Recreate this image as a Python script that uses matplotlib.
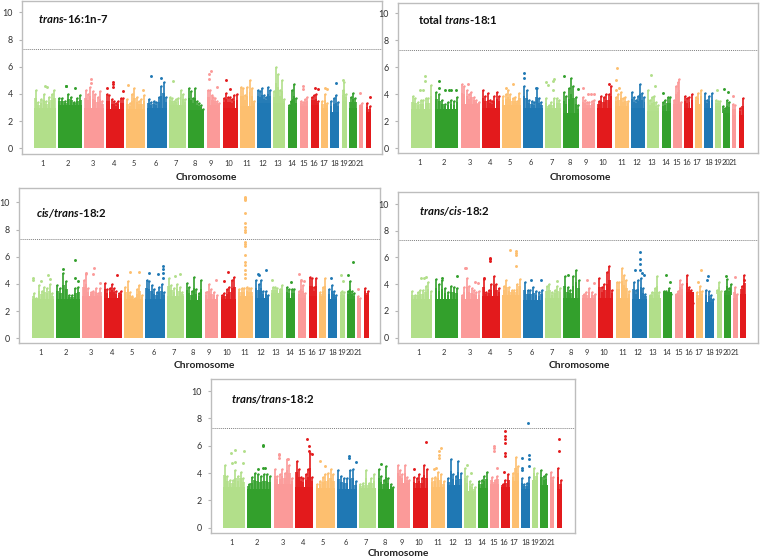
import matplotlib
matplotlib.use("Agg")
from matplotlib import pyplot as plt

plt.rcParams['font.family'] = ['Lato', 'DejaVu Sans']
plt.rcParams['mathtext.fontset'] = 'custom'
plt.rcParams['mathtext.bfit'] = 'Lato:italic:bold'
plt.rcParams['mathtext.rm'] = 'Lato:bold'

W, H = 760, 559

# chromosome extents along the shared genome axis (22 blocks, 21 labels)
chrom_start = [103, 174, 253, 318, 379, 442, 508, 563, 620, 668, 721, 771, 820, 863, 899, 932, 964, 991, 1025, 1048, 1076, 1097]
chrom_end = [167, 246, 311, 372, 435, 502, 557, 613, 661, 713, 764, 814, 856, 892, 925, 957, 985, 1018, 1042, 1070, 1090, 1113]
tick_pos = [127, 203, 280, 341, 401, 467, 528, 584, 634, 685, 741, 787, 833, 874, 910, 940, 970, 1005, 1032, 1057, 1081]
tick_labels = [str(i) for i in range(1, 22)]
colours = ['#b2df8a', '#33a02c', '#fb9a99', '#e31a1c', '#fdbf6f', '#1f78b4']
threshold = 7.3

# solid block height per chromosome, then skyline peaks left to right, then isolated SNPs (chrom, frac, y)
t16_solid = [3.0, 3.2, 3.0, 2.9, 2.9, 3.0, 3.2, 2.8, 3.2, 3.0, 3.1, 3.3, 3.3, 2.8, 3.1, 3.2, 3.0, 2.7, 3.5, 3.0, 3.1, 2.7]
t16_peaks = [[4.3, 3.4, 3.6, 4.0, 3.5, 3.8, 4.0, 4.3], [3.7, 3.7, 3.5, 4.0, 3.8, 3.4, 3.7, 3.9],
             [4.3, 4.0, 4.5, 4.2, 4.0, 3.8, 4.2, 3.5], [4.0, 3.9, 3.6, 3.5, 3.3, 3.5, 3.7, 3.7],
             [3.6, 3.3, 4.0, 4.4, 3.8, 3.5, 3.6, 3.9], [3.6, 3.4, 3.5, 3.4, 3.8, 4.6, 4.9, 3.8],
             [3.8, 3.7, 3.5, 3.6, 3.7, 4.3, 4.0, 3.6], [4.4, 4.2, 3.7, 4.4, 3.5, 3.3, 3.2, 2.9],
             [4.3, 4.3, 3.9, 3.8, 3.7, 3.5, 3.3], [3.7, 4.1, 3.8, 3.8, 3.6, 3.9, 4.0],
             [4.5, 4.4, 3.9, 4.5, 5.0, 4.4, 3.5], [4.3, 4.2, 4.4, 3.9, 3.8, 4.5, 4.3],
             [4.2, 6.0, 5.5, 4.3, 5.0, 3.6], [3.2, 3.5, 4.3, 4.7, 3.7], [3.5, 3.4, 3.6, 3.8],
             [3.8, 3.9, 4.0, 3.5], [3.5, 4.0, 3.3], [3.5, 3.7, 3.9, 3.4], [4.3, 4.9, 4.0],
             [3.8, 4.1, 3.7], [3.2, 3.3], [3.3, 3.1]]
t16_hits = [(1, .5, 4.6), (1, .58, 4.5), (2, .32, 4.55), (2, .35, 4.6), (2, .73, 4.45), (3, .33, 5.1), (3, .33, 4.8),
            (4, .05, 4.4), (4, .4, 4.9), (4, .4, 4.7), (4, .4, 4.5), (4, .93, 4.25), (5, .07, 4.65), (5, .9, 4.3),
            (6, .2, 5.35), (6, .7, 5.15), (7, .2, 4.95), (9, .3, 5.7), (9, .2, 5.5), (9, .2, 5.1), (9, .75, 4.5),
            (10, .22, 5.05), (10, .48, 4.35), (15, .4, 4.6), (15, .4, 4.35), (16, .5, 4.45), (16, .85, 4.35),
            (17, .5, 4.45), (17, .85, 4.35), (18, .67, 4.8), (19, .3, 5.0), (21, .4, 4.05), (22, .8, 3.8)]

tt181_solid = [2.9, 2.9, 3.3, 3.0, 3.2, 3.0, 3.0, 2.6, 3.0, 3.0, 3.1, 3.0, 2.8, 2.8, 3.3, 3.0, 3.3, 3.0, 3.1, 2.6, 2.5, 2.5]
tt181_peaks = [[3.9, 3.7, 3.4, 3.6, 3.6, 3.7, 3.7, 4.7], [4.2, 4.0, 3.6, 3.3, 3.4, 3.6, 3.5, 3.8],
               [4.8, 4.6, 4.3, 4.0, 4.2, 3.8, 3.6, 3.4], [4.3, 3.9, 4.1, 3.6, 3.5, 3.9, 4.2, 3.9],
               [3.9, 4.0, 4.3, 4.0, 3.7, 3.8, 3.5, 4.1], [4.6, 4.3, 3.6, 3.5, 3.4, 4.5, 3.7, 3.4],
               [3.7, 3.2, 3.4, 3.7, 3.7, 3.6], [4.2, 3.9, 4.5, 5.2, 4.6, 3.8, 3.2],
               [3.8, 3.6, 3.4, 3.4, 3.5, 3.6], [3.5, 3.9, 3.8, 4.0, 4.0, 4.6],
               [3.8, 4.0, 4.2, 3.7, 3.8, 3.5], [4.2, 3.8, 3.6, 3.9, 4.8, 4.1, 3.8],
               [4.3, 3.6, 3.8, 3.9, 3.4, 3.2], [3.4, 3.6, 3.8, 3.8], [3.6, 4.6, 4.9, 5.1, 3.4],
               [3.9, 3.7, 3.8, 4.0], [3.8, 4.1, 4.3], [4.1, 3.6, 3.9, 4.1], [3.6, 3.5, 3.5],
               [3.1, 3.0, 3.6, 3.4], [3.3, 3.2], [3.0, 3.7]]
tt181_hits = [(1, .65, 5.35), (1, .4, 4.3), (1, .55, 4.3), (1, .65, 4.95), (2, .18, 5.0), (2, .18, 4.5), (2, .45, 4.3),
              (2, .6, 4.3), (2, .7, 4.3), (2, .9, 4.3), (3, .4, 4.8), (5, .2, 4.5), (5, .6, 4.75), (6, .05, 5.6),
              (6, .05, 5.2), (6, .65, 4.5), (7, .1, 4.9), (7, .5, 5.0), (7, .55, 5.15), (7, .2, 4.7), (7, .5, 4.3),
              (8, .05, 5.35), (8, .9, 4.4), (9, .1, 4.45), (9, .5, 4.0), (9, .7, 4.0), (9, .9, 4.0), (10, .75, 4.8),
              (11, .18, 5.95), (11, .08, 5.05), (11, .3, 4.5), (11, .08, 4.35), (13, .28, 5.4), (13, .65, 4.65),
              (14, .15, 4.1), (19, .3, 4.3), (20, .2, 4.4), (20, .7, 4.2), (21, .3, 3.9)]

ct182_solid = [2.9, 2.9, 3.1, 3.0, 2.9, 2.9, 3.1, 2.8, 2.9, 2.9, 3.1, 3.0, 3.3, 3.0, 3.0, 3.1, 3.1, 2.9, 3.0, 2.9, 2.9, 3.2]
ct182_peaks = [[3.3, 3.0, 3.9, 3.5, 3.8, 3.7, 4.0, 3.3], [3.9, 3.7, 4.8, 4.2, 3.2, 3.2, 3.7, 3.8],
               [4.3, 4.7, 3.7, 3.4, 3.5, 3.7, 3.3, 3.7], [4.1, 3.6, 3.7, 4.0, 3.7, 3.5, 3.3, 3.5],
               [3.8, 4.2, 3.4, 3.1, 3.0, 3.6, 3.9, 3.2], [4.3, 4.2, 3.9, 3.6, 3.4, 3.8, 4.0, 3.4],
               [4.4, 3.9, 3.7, 4.0, 3.8, 3.4], [4.1, 3.8, 3.5, 4.5, 3.6, 3.3, 4.3],
               [3.4, 4.0, 3.6, 3.4, 3.2], [3.2, 3.3, 3.6, 3.8, 4.3, 4.5], [3.6, 3.7, 3.7, 3.8, 3.7, 3.7],
               [4.3, 4.0, 4.3, 3.5, 3.5, 3.2], [3.8, 3.8, 3.7, 3.6, 3.9], [3.8, 3.6, 3.6, 3.6],
               [3.5, 4.2, 3.9, 3.3], [4.5, 4.4, 3.8, 4.4], [3.4, 3.8, 4.4], [3.6, 3.9, 3.5, 3.2],
               [3.4, 3.5, 3.4], [3.5, 4.2, 3.5, 3.3], [3.1, 3.0], [3.7, 3.5]]
ct182_hits = [(1, .02, 4.4), (1, .05, 4.3), (1, .4, 4.2), (1, .75, 4.65), (1, .85, 4.35), (2, .28, 5.1), (2, .8, 5.75),
              (2, .8, 4.4), (2, .9, 4.2), (3, .58, 5.2), (3, .2, 4.8), (3, .55, 4.7), (3, .9, 4.1), (4, .72, 4.65),
              (5, .32, 4.85), (5, .78, 4.9), (6, .2, 4.8), (6, .62, 4.75), (6, .88, 5.35), (6, .88, 5.1), (6, .88, 4.8),
              (6, .88, 4.4), (7, .45, 4.6), (7, .8, 4.7), (9, .8, 4.3), (10, .5, 4.9), (10, .25, 4.2),
              (11, .45, 10.4), (11, .45, 10.35), (11, .45, 10.3), (11, .45, 10.25), (11, .45, 10.2), (11, .45, 9.2),
              (11, .45, 8.5), (11, .45, 8.2), (11, .45, 8.0), (11, .45, 7.8), (11, .45, 7.1), (11, .45, 6.95),
              (11, .45, 6.8), (11, .45, 6.1), (11, .45, 5.6), (11, .45, 5.4), (11, .45, 5.0), (11, .45, 4.7),
              (11, .45, 4.4), (12, .2, 4.75), (12, .25, 4.65),
              (12, .8, 5.05), (13, .05, 4.3), (14, .6, 4.15), (15, .2, 4.7), (15, .4, 4.3), (15, .7, 4.2),
              (18, .3, 4.4), (19, .2, 4.65), (19, .6, 4.2), (20, .1, 4.65), (20, .8, 5.6), (21, .4, 3.6)]

tc182_solid = [2.9, 2.9, 2.9, 3.1, 3.2, 2.8, 3.0, 3.0, 3.0, 3.0, 3.0, 2.9, 3.0, 3.4, 3.2, 3.4, 3.0, 2.7, 3.3, 3.2, 3.0, 3.3]
tc182_peaks = [[3.5, 3.2, 3.4, 3.6, 3.6, 3.9, 4.2, 3.5], [4.4, 4.0, 4.3, 3.7, 3.4, 3.9, 3.8, 3.7],
               [3.2, 3.8, 4.5, 3.9, 3.7, 3.6, 3.4, 3.5], [4.4, 3.4, 3.6, 4.0, 4.6, 4.0, 3.7],
               [3.9, 4.3, 3.8, 3.6, 3.6, 4.0, 4.4], [4.2, 3.6, 3.6, 3.8, 3.5, 3.4, 3.6],
               [3.9, 4.0, 3.4, 3.6, 3.9, 3.7], [4.6, 3.8, 3.6, 4.6, 5.1, 4.3], [3.3, 3.4, 3.7, 3.4, 3.3],
               [4.5, 3.8, 4.0, 4.9, 5.4, 3.6], [4.2, 4.2, 5.2, 4.7, 4.3, 3.5], [4.2, 3.6, 4.3, 4.5, 3.7, 3.3],
               [3.2, 3.4, 3.7, 4.6, 3.4], [3.5, 3.5, 3.7, 3.3], [3.3, 3.5, 4.3, 4.0], [4.7, 3.8, 3.6, 2.6],
               [3.4, 3.9, 3.5], [3.6, 3.5, 3.2, 2.9], [3.6, 4.2, 3.5], [3.5, 4.4, 3.7, 4.0], [3.8, 3.3], [3.9, 4.7]]
tc182_hits = [(1, .45, 4.5), (1, .6, 4.45), (1, .7, 4.55), (2, .3, 4.5), (2, .95, 4.65), (3, .2, 5.25), (3, .3, 5.25),
              (3, .75, 4.15), (3, .9, 4.1), (4, .45, 5.95), (4, .45, 5.85), (4, .45, 5.75), (4, .1, 4.5), (5, .38, 6.55),
              (5, .75, 6.45), (5, .75, 6.3), (5, .75, 6.2), (5, .75, 5.4), (6, .4, 4.35), (6, .9, 4.3), (7, .7, 4.25),
              (8, .3, 4.7), (9, .35, 4.35), (9, .85, 4.1), (12, .55, 6.4), (12, .55, 5.85), (12, .55, 5.5), (12, .2, 5.1),
              (12, .55, 5.1), (12, .65, 4.85), (12, .8, 4.7), (14, .35, 4.7), (14, .75, 4.15), (17, .7, 5.1), (17, .3, 4.2),
              (18, .3, 4.6), (18, .2, 4.3), (20, .3, 4.6), (21, .3, 4.55), (22, .7, 4.35)]

ttt182_solid = [3.0, 2.8, 3.2, 3.0, 2.9, 2.8, 2.9, 2.8, 3.3, 2.9, 3.0, 3.1, 2.7, 2.9, 3.2, 3.0, 3.4, 2.8, 3.5, 3.1, 3.3, 2.8]
ttt182_peaks = [[4.6, 3.8, 3.5, 3.5, 4.2, 3.8, 4.1, 3.6], [3.2, 3.7, 4.0, 3.9, 3.8, 3.9, 3.9, 3.8],
                [4.3, 3.8, 3.9, 4.3, 4.0, 5.0, 4.6, 3.6], [4.9, 4.3, 3.7, 3.6, 3.9, 4.3, 5.5, 3.7],
                [3.2, 3.4, 3.7, 3.9, 4.0, 4.3, 3.9], [4.2, 3.8, 3.6, 3.6, 4.2, 4.3, 3.4],
                [3.2, 3.3, 4.2, 3.3, 3.6, 3.9], [4.3, 3.8, 3.5, 4.5, 3.6, 3.2, 3.0],
                [4.6, 4.2, 3.9, 4.6, 3.7, 3.5], [3.7, 3.6, 3.9, 3.6, 4.6, 4.3], [3.6, 3.7, 4.1, 3.9, 3.4],
                [3.6, 5.0, 3.9, 3.8, 4.9, 4.0], [4.4, 3.8, 3.4, 3.2, 3.0], [3.4, 3.5, 3.8, 4.1],
                [3.7, 3.5, 3.8], [3.2, 3.5, 3.9], [4.0, 5.2, 4.5], [3.6, 3.2, 3.3, 3.7], [4.4, 4.0],
                [4.2, 3.8, 3.9], [4.1, 3.7], [4.4, 3.5]]
ttt182_hits = [(1, .38, 5.5), (1, .55, 5.65), (1, .95, 5.6), (1, .4, 4.75), (1, .55, 4.8), (1, .9, 4.7), (2, .65, 6.05),
               (2, .65, 5.95), (2, .65, 4.4), (2, .45, 4.3), (2, .75, 4.4), (3, .28, 5.4), (3, .28, 5.3), (3, .28, 5.1),
               (3, .75, 5.0), (4, .62, 6.5), (4, .73, 6.0), (4, .73, 5.6), (4, .9, 5.4), (5, .2, 4.85), (5, .5, 4.55),
               (6, .6, 5.25), (6, .6, 5.1), (6, .95, 4.8), (8, .2, 4.65), (10, .9, 6.3), (10, .05, 4.3), (11, .7, 5.8),
               (11, .6, 5.6), (11, .6, 5.3), (11, .6, 5.1), (11, .25, 4.3), (11, .35, 4.35), (13, .3, 4.6), (13, .6, 4.0),
               (15, .45, 5.95), (15, .45, 5.8), (15, .45, 5.6), (15, .75, 4.35), (16, .5, 7.05), (16, .5, 6.7),
               (16, .5, 6.5), (16, .5, 6.2), (16, .5, 5.5), (16, .5, 5.25), (16, .3, 4.1), (18, .75, 7.65), (18, .85, 5.3),
               (18, .85, 5.05), (18, .1, 5.1), (18, .85, 4.5), (18, .1, 4.4), (18, .1, 4.2), (22, .4, 6.5), (22, .4, 5.6)]


def px_axes(left, right, top, bottom):
    # pixel box -> figure fraction
    return fig.add_axes([left / W, 1 - bottom / H, (right - left) / W, (bottom - top) / H])


def draw_panel(box, y0_px, unit_px, x0_px, scale, title, title_xy, label_xy, solid, peaks, hits):
    left, right, top, bottom = box
    ax = px_axes(left, right, top, bottom)
    ax.set_xlim(103 + (left - x0_px) / scale, 103 + (right - x0_px) / scale)
    ax.set_ylim((y0_px - bottom) / unit_px, (y0_px - top) / unit_px)

    for i in range(22):
        c = colours[i % 6]
        a, b = chrom_start[i], chrom_end[i]
        ax.bar((a + b) / 2, solid[i], width=b - a, color=c, linewidth=0, zorder=2)
        n = len(peaks[i])
        step = (b - a) / n
        xs = [a + (j + 0.5) * step for j in range(n)]
        # denser shoulder above the block, then thin stems up to each peak
        for j in range(n):
            shoulder = max(peaks[i][j] - solid[i], 0) * 0.55
            ax.bar(xs[j], shoulder, bottom=solid[i], width=step * 0.95, color=c, alpha=0.8, linewidth=0, zorder=2)
        ax.vlines(xs, solid[i], peaks[i], color=c, linewidth=1.2, zorder=3)
        ax.scatter(xs, peaks[i], s=3, color=c, linewidths=0, zorder=3)

    for chrom, frac, y in hits:
        i = chrom - 1
        x = chrom_start[i] + frac * (chrom_end[i] - chrom_start[i])
        ax.scatter(x, y, s=4.5, color=colours[i % 6], linewidths=0, zorder=4)

    ax.axhline(threshold, color='#808080', linewidth=0.7, linestyle=(0, (1, 1)), zorder=1)

    ax.set_xticks(tick_pos)
    ax.set_xticklabels(tick_labels)
    ax.set_yticks([0, 2, 4, 6, 8, 10])
    ax.tick_params(axis='x', length=0, labelsize=5.4, pad=4.5, labelcolor='#303030')
    ax.tick_params(axis='y', length=2.5, width=0.8, color='#b5b5b5', labelsize=6.4, pad=4, labelcolor='#303030')
    for side in ax.spines.values():
        side.set_color('#bdbdbd')
        side.set_linewidth(1.0)

    fig.text(title_xy[0] / W, 1 - title_xy[1] / H, title, fontsize=8.2, fontweight='bold', va='center', color='#111111')
    fig.text(label_xy[0] / W, 1 - label_xy[1] / H, 'Chromosome', fontsize=7.4, fontweight='bold',
             ha='center', va='center', color='#222222')


fig = plt.figure(figsize=(W / 100, H / 100), dpi=100)

draw_panel((22, 382, 1, 154), 148.3, 13.6, 34.3, 1 / 3, r'$\mathbfit{trans}$-16:1n-7', (38, 19), (206, 178),
           t16_solid, t16_peaks, t16_hits)
draw_panel((398, 758, 3, 153), 148.3, 13.5, 411.3, 998 / 1010 / 3, r'total $\mathbfit{trans}$-18:1', (418, 20), (580, 178),
           tt181_solid, tt181_peaks, tt181_hits)
draw_panel((19, 380, 188, 343), 338.3, 13.6, 32.3, 1 / 3, r'$\mathbfit{cis/trans}$-18:2', (36, 213), (204, 366),
           ct182_solid, ct182_peaks, ct182_hits)
draw_panel((398, 758, 192, 343), 337.7, 13.37, 411, 1004 / 1010 / 3, r'$\mathbfit{trans/cis}$-18:2', (419, 211), (579, 366),
           tc182_solid, tc182_peaks, tc182_hits)
draw_panel((211, 575, 379, 533), 527.7, 13.67, 223.3, 1016 / 1010 / 3, r'$\mathbfit{trans/trans}$-18:2', (231, 400), (398, 554),
           ttt182_solid, ttt182_peaks, ttt182_hits)

fig.savefig('out.png', dpi=100)
